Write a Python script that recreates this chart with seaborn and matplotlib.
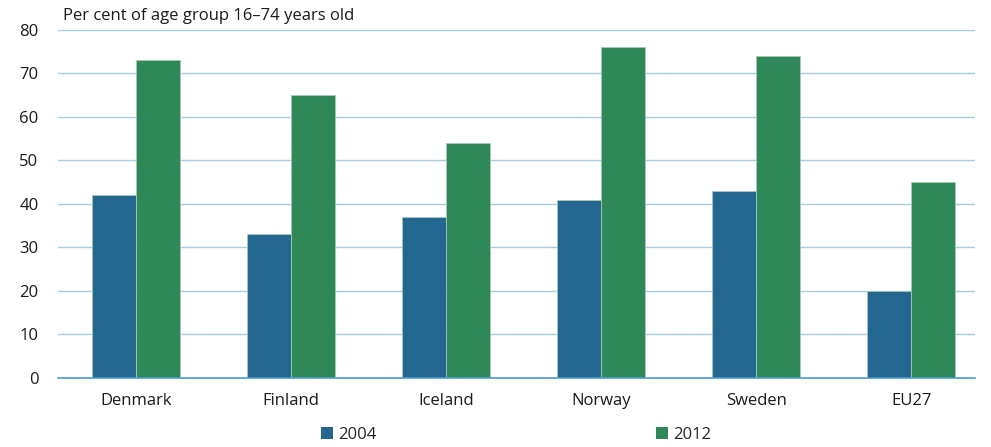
import matplotlib
matplotlib.use("Agg")
import matplotlib.pyplot as plt
import seaborn as sns
import pandas as pd
from matplotlib.patches import Patch

countries = ["Denmark", "Finland", "Iceland", "Norway", "Sweden", "EU27"]
years = ["2004", "2012"]
values_2004 = [42, 33, 37, 41, 43, 20]
values_2012 = [73, 65, 54, 76, 74, 45]
yticks = [0, 10, 20, 30, 40, 50, 60, 70, 80]
title = "Per cent of age group 16\u201374 years old"

df = pd.DataFrame({
    "country": countries * 2,
    "year": [years[0]] * len(countries) + [years[1]] * len(countries),
    "value": values_2004 + values_2012,
})

sns.set_theme(style="white")
plt.rcParams["font.family"] = ["Open Sans", "DejaVu Sans"]

fig = plt.figure(figsize=(9.91, 4.47), dpi=100)
ax = fig.add_axes([0.0585, 0.1544, 0.9255, 0.7786])

palette = {"2004": "#23668f", "2012": "#2f8857"}
sns.barplot(data=df, x="country", y="value", hue="year", palette=palette,
            width=0.57, ax=ax, legend=False, saturation=1,
            edgecolor="#a7c9b6", linewidth=0.6)

ax.set_ylim(0, 80)
ax.set_xlim(-0.503, len(countries) - 1 + 0.413)
ax.set_yticks(yticks)
ax.set_yticklabels([str(v) for v in yticks], fontsize=12, color="#1a1a1a")
ax.tick_params(axis="x", labelsize=12, colors="#1a1a1a", length=0, pad=11)
ax.tick_params(axis="y", length=0, pad=14)
ax.set_xlabel("")
ax.set_ylabel("")

ax.grid(axis="y", color="#a6cde2", linewidth=1)
ax.set_axisbelow(True)
for s in ["top", "right", "left"]:
    ax.spines[s].set_visible(False)
ax.spines["bottom"].set_color("#4a9ccf")
ax.spines["bottom"].set_linewidth(1.2)

fig.text(63 / 991, 1 - 16 / 447, title, fontsize=12, color="#1a1a1a",
         ha="left", va="center")

handles = [Patch(facecolor=palette[y], edgecolor="none") for y in years]
fig.legend(handles, years, loc="center", bbox_to_anchor=(0.521, 1 - 435 / 447),
           ncol=2, frameon=False, fontsize=12, handlelength=0.7,
           handleheight=0.7, handletextpad=0.3, columnspacing=16.8)

fig.savefig("out.png", dpi=100)
